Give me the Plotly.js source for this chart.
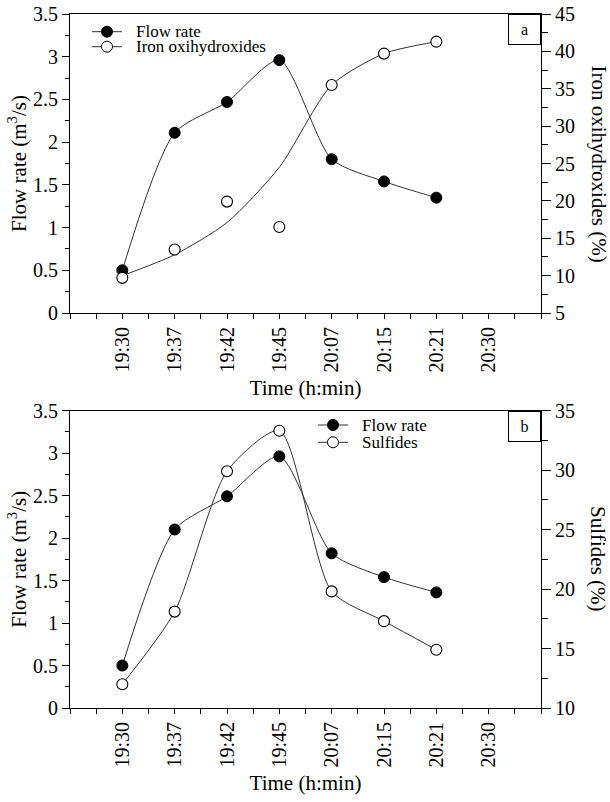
<!DOCTYPE html>
<html>
<head>
<meta charset="utf-8">
<script src="https://cdn.plot.ly/plotly-3.0.1.min.js"></script>
<style>
  html, body { margin: 0; padding: 0; background: #fff; }
  #chart { width: 610px; height: 802px; }
</style>
</head>
<body>
<div id="chart"></div>
<script>
// Sampling times shown on the time axis (last slot has no sample)
const times = ['19:30', '19:37', '19:42', '19:45', '20:07', '20:15', '20:21', '20:30'];
const sampled = ['19:30', '19:37', '19:42', '19:45', '20:07', '20:15', '20:21'];

// Panel a: flow rate (m3/s) and iron oxihydroxides (%)
const flowA = [0.50, 2.11, 2.47, 2.96, 1.80, 1.54, 1.35];
const ironPoints = [9.7, 13.5, 19.9, 16.5, 35.5, 39.7, 41.3];
const ironTrend = [10.0, 12.8, 17.1, 24.5, 35.5, 39.7, 41.3];

// Panel b: flow rate (m3/s) and sulfides (%)
const flowB = [0.50, 2.10, 2.49, 2.96, 1.82, 1.54, 1.36];
const sulfides = [12.0, 18.1, 29.9, 33.3, 19.8, 17.3, 14.9];

// Legend labels per panel
const legendA = ['Flow rate', 'Iron oxihydroxides'];
const legendB = ['Flow rate', 'Sulfides'];

// Each time slot sits at its 1-based position on a linear axis
const slot = (t) => times.indexOf(t) + 1;
const xs = sampled.map(slot);
const tickPos = times.map(slot);

const FONT = 'Liberation Serif, Times New Roman, serif';
const LINE_COLOR = '#333';
const curve = { shape: 'spline', smoothing: 0.7, color: LINE_COLOR, width: 1 };
const filled = { symbol: 'circle', size: 11, color: '#000', line: { color: '#000', width: 1 } };
const hollow = { symbol: 'circle', size: 11, color: '#fff', line: { color: '#000', width: 1.1 } };

const traces = [
  { x: xs, y: flowA, xaxis: 'x', yaxis: 'y', mode: 'lines+markers', name: legendA[0],
    line: curve, marker: filled },
  { x: xs, y: ironTrend, xaxis: 'x', yaxis: 'y2', mode: 'lines', name: legendA[1] + ' trend',
    line: curve, hoverinfo: 'skip' },
  { x: xs, y: ironPoints, xaxis: 'x', yaxis: 'y2', mode: 'markers', name: legendA[1], marker: hollow },
  { x: xs, y: flowB, xaxis: 'x2', yaxis: 'y3', mode: 'lines+markers', name: legendB[0],
    line: curve, marker: filled },
  { x: xs, y: sulfides, xaxis: 'x2', yaxis: 'y4', mode: 'lines+markers', name: legendB[1],
    line: curve, marker: hollow }
];

const M = { l: 70, r: 69, t: 14, b: 94 };
const plotH = 802 - M.t - M.b;
const py = (p) => (802 - M.b - p) / plotH;       // pixel row -> paper y
const px = (p) => (p - M.l) / (610 - M.l - M.r); // pixel column -> paper x

function timeAxis(anchor) {
  return {
    anchor: anchor, domain: [0, 1], range: [0, 9],
    tickmode: 'array', tickvals: tickPos, ticktext: times, tickangle: -90,
    ticks: 'outside', ticklen: 5, tickcolor: '#000', tickwidth: 1,
    minor: { tick0: 0, dtick: 0.5, ticks: 'outside', ticklen: 5, tickcolor: '#000', showgrid: false },
    showline: true, linecolor: '#000', linewidth: 1, mirror: true,
    showgrid: false, zeroline: false,
    tickfont: { family: FONT, size: 20, color: '#000' },
    title: { text: 'Time (h:min)', font: { family: FONT, size: 21, color: '#000' }, standoff: 8 }
  };
}

function flowAxis(anchor, domain) {
  return {
    anchor: anchor, domain: domain, range: [0, 3.5],
    tick0: 0, dtick: 0.5, ticks: 'outside', ticklen: 7, tickcolor: '#000',
    minor: { dtick: 0.25, ticks: 'outside', ticklen: 4, tickcolor: '#000', showgrid: false },
    showline: true, linecolor: '#000', linewidth: 1,
    showgrid: false, zeroline: false,
    tickfont: { family: FONT, size: 20, color: '#000' },
    title: { text: 'Flow rate (m<sup>3</sup>/s)', font: { family: FONT, size: 21, color: '#000' }, standoff: 0 }
  };
}

function pctAxis(anchor, over, range) {
  return {
    anchor: anchor, overlaying: over, side: 'right', range: range,
    tick0: range[0], dtick: 5, ticks: 'outside', ticklen: 9, tickcolor: '#000',
    minor: { dtick: 2.5, ticks: 'outside', ticklen: 6, tickcolor: '#000', showgrid: false },
    showline: true, linecolor: '#000', linewidth: 1,
    showgrid: false, zeroline: false,
    tickfont: { family: FONT, size: 20, color: '#000' }
  };
}

// Legend key: short line with a centred marker, plus its label
function legendKey(label, leftPx, yPx, fill, shapes, notes) {
  const cx = leftPx + 15;
  shapes.push({
    type: 'line', xref: 'paper', yref: 'paper',
    x0: px(leftPx), x1: px(leftPx + 30), y0: py(yPx), y1: py(yPx),
    line: { color: LINE_COLOR, width: 1 }
  });
  shapes.push({
    type: 'circle', xref: 'paper', yref: 'paper',
    xsizemode: 'pixel', ysizemode: 'pixel', xanchor: px(cx), yanchor: py(yPx),
    x0: -5.5, x1: 5.5, y0: -5.5, y1: 5.5,
    fillcolor: fill, line: { color: '#000', width: 1 }
  });
  notes.push({
    text: label, xref: 'paper', yref: 'paper', x: px(leftPx + 42), y: py(yPx),
    xanchor: 'left', yanchor: 'middle', showarrow: false,
    font: { family: FONT, size: 17, color: '#000' }
  });
}

function panelTag(text, xa, ya) {
  return {
    text: text, xref: xa + ' domain', yref: ya + ' domain', x: 1, y: 1,
    xanchor: 'right', yanchor: 'top', showarrow: false,
    width: 31, height: 29, borderpad: 0, borderwidth: 1, bordercolor: '#000', bgcolor: '#fff',
    font: { family: FONT, size: 16, color: '#000' }
  };
}

function sideTitle(text, yPx) {
  return {
    text: text, xref: 'paper', yref: 'paper', x: px(598), y: py(yPx),
    xanchor: 'center', yanchor: 'middle', textangle: 90, showarrow: false,
    font: { family: FONT, size: 21, color: '#000' }
  };
}

const shapes = [];
const annotations = [
  panelTag('a', 'x', 'y'),
  panelTag('b', 'x2', 'y3'),
  sideTitle('Iron oxihydroxides (%)', 163.5),
  sideTitle('Sulfides (%)', 559)
];
legendKey(legendA[0], 92, 31.7, '#000', shapes, annotations);
legendKey(legendA[1], 92, 46.7, '#fff', shapes, annotations);
legendKey(legendB[0], 318, 425, '#000', shapes, annotations);
legendKey(legendB[1], 318, 442.3, '#fff', shapes, annotations);

const layout = {
  width: 610, height: 802, margin: M,
  paper_bgcolor: '#fff', plot_bgcolor: '#fff',
  font: { family: FONT, color: '#000' },
  showlegend: false,
  xaxis: timeAxis('y'),
  yaxis: flowAxis('x', [py(313), 1]),
  yaxis2: pctAxis('x', 'y', [5, 45]),
  xaxis2: timeAxis('y3'),
  yaxis3: flowAxis('x2', [0, py(410.5)]),
  yaxis4: pctAxis('x2', 'y3', [10, 35]),
  shapes: shapes,
  annotations: annotations
};

Plotly.newPlot('chart', traces, layout, { displayModeBar: false, staticPlot: true });
</script>
</body>
</html>
